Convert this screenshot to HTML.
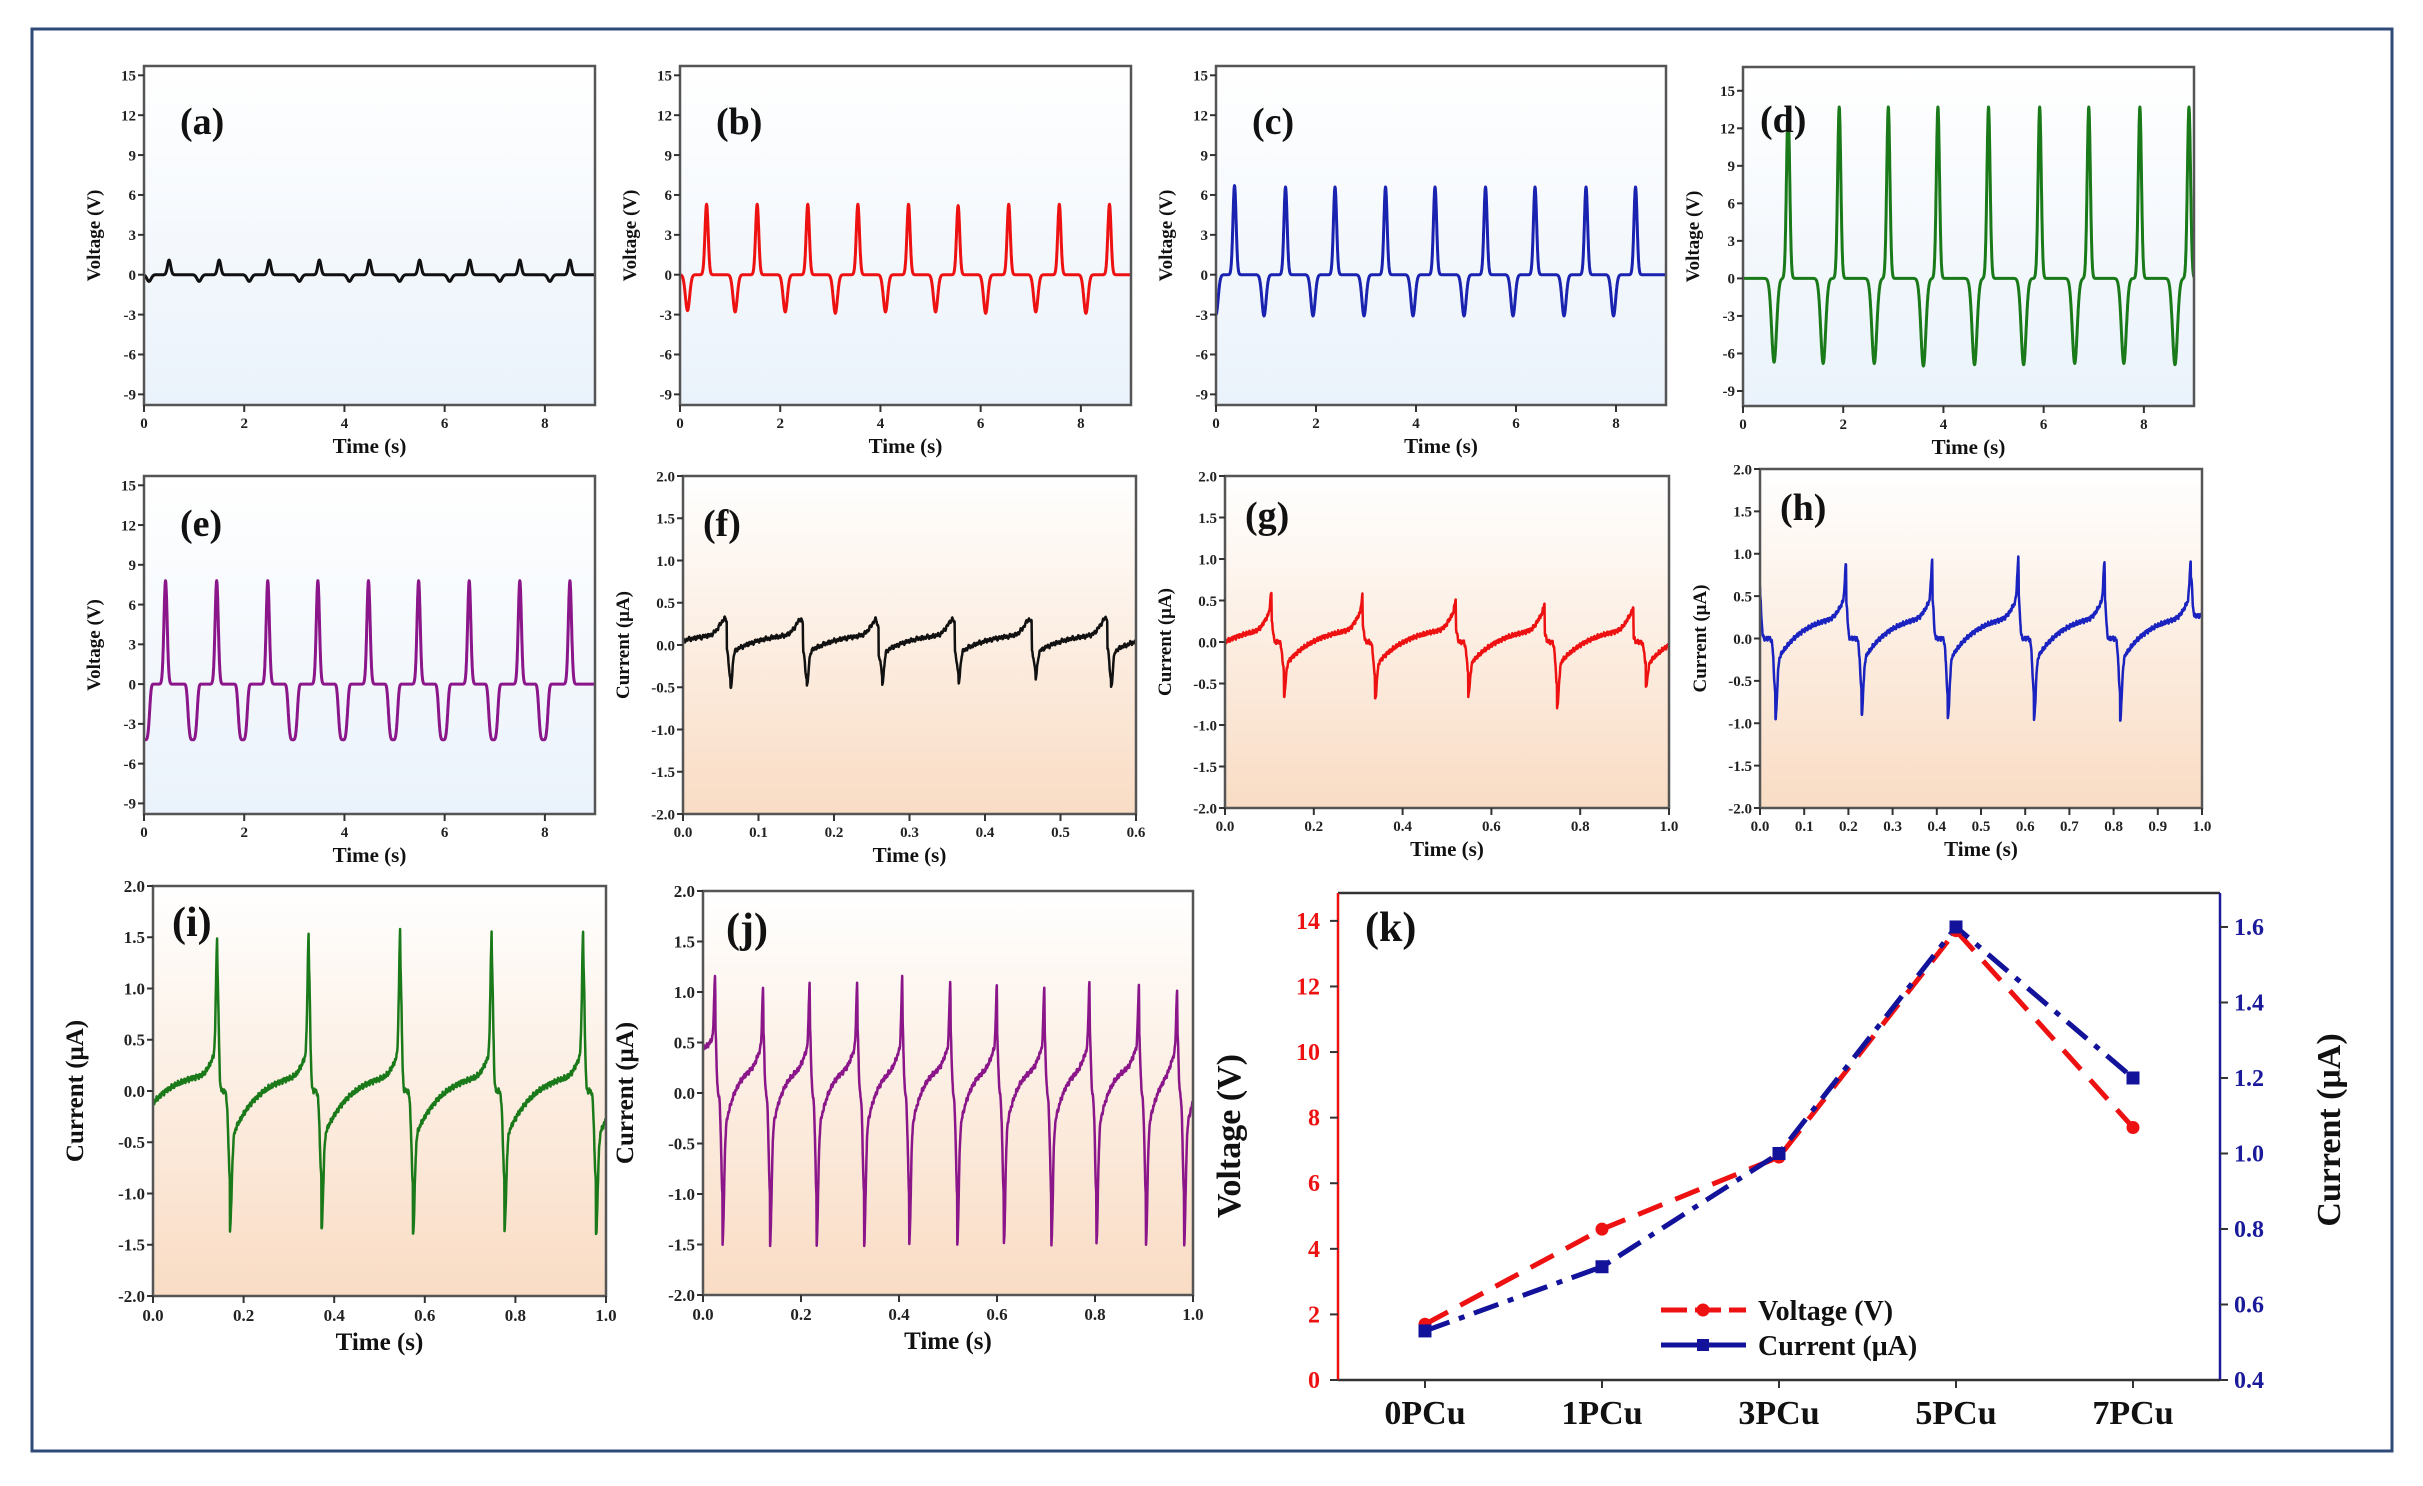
<!DOCTYPE html>
<html><head><meta charset="utf-8"><title>TENG output panels</title>
<style>
html,body{margin:0;padding:0;background:#fff;}
svg{display:block;font-family:"Liberation Serif",serif;}
</style></head>
<body>
<svg id="fig" width="2423" height="1486" viewBox="0 0 2423 1486" xmlns="http://www.w3.org/2000/svg">
<defs>
<linearGradient id="gBlue" x1="0" y1="0" x2="0" y2="1"><stop offset="0" stop-color="#ffffff"/><stop offset="1" stop-color="#eaf2fb"/></linearGradient>
<linearGradient id="gPeach" x1="0" y1="0" x2="0" y2="1"><stop offset="0" stop-color="#ffffff"/><stop offset="1" stop-color="#f9dcc4"/></linearGradient>
</defs>
<rect x="32" y="29" width="2360" height="1422" fill="none" stroke="#2d4a78" stroke-width="3"/>
</svg>
<script>
// ---- data ----
const aPeakT=[0.5,1.5,2.5,3.5,4.5,5.5,6.5,7.5,8.5];
const aPeakV=[1.1,1.1,1.1,1.1,1.1,1.1,1.1,1.1,1.1];
const aDipT=[0.1,1.1,2.1,3.1,4.1,5.1,6.1,7.1,8.1];
const aDipV=[-0.5,-0.5,-0.5,-0.5,-0.5,-0.5,-0.5,-0.5,-0.5];

const bPeakT=[0.53,1.54,2.55,3.55,4.56,5.55,6.56,7.57,8.57];
const bPeakV=[5.3,5.3,5.3,5.3,5.3,5.2,5.3,5.3,5.3];
const bDipT=[0.15,1.1,2.1,3.1,4.1,5.1,6.1,7.1,8.1];
const bDipV=[-2.7,-2.8,-2.8,-2.9,-2.8,-2.8,-2.9,-2.8,-2.9];

const cPeakT=[0.37,1.39,2.38,3.39,4.38,5.39,6.38,7.4,8.39];
const cPeakV=[6.7,6.6,6.6,6.6,6.6,6.6,6.6,6.6,6.6];
const cDipT=[0.0,0.96,1.94,2.96,3.94,4.96,5.94,6.96,7.95];
const cDipV=[-3.0,-3.1,-3.1,-3.1,-3.1,-3.1,-3.1,-3.1,-3.1];

const dPeakT=[0.9,1.92,2.9,3.89,4.9,5.92,6.9,7.92,8.9];
const dPeakV=[13.6,13.7,13.7,13.7,13.7,13.7,13.7,13.7,13.7];
const dDipT=[0.62,1.6,2.62,3.6,4.62,5.6,6.62,7.6,8.62];
const dDipV=[-6.7,-6.8,-6.8,-7.0,-6.9,-6.9,-6.8,-6.8,-6.9];

const ePeakT=[0.43,1.45,2.47,3.47,4.48,5.48,6.49,7.5,8.5];
const ePeakV=[7.8,7.8,7.8,7.8,7.8,7.8,7.8,7.8,7.8];
const eDipT=[0.02,0.97,1.97,2.97,3.97,4.97,5.97,6.97,7.97];
const eDipV=[-4.2,-4.2,-4.2,-4.2,-4.2,-4.2,-4.2,-4.2,-4.2];

const fPeakT=[0.058,0.159,0.259,0.36,0.462,0.562];
const fPeakV=[0.33,0.3,0.25,0.3,0.3,0.35];
const fDipT=[0.063,0.164,0.264,0.365,0.467,0.567];
const fDipV=[-0.52,-0.5,-0.45,-0.45,-0.4,-0.5];

const gPeakT=[0.105,0.31,0.52,0.72,0.92];
const gPeakV=[0.65,0.6,0.55,0.5,0.45];
const gDipT=[0.133,0.338,0.548,0.748,0.948];
const gDipV=[-0.65,-0.7,-0.65,-0.8,-0.55];

const hPeakT=[0.0,0.195,0.39,0.585,0.78,0.975];
const hPeakV=[1.0,0.93,0.97,1.0,0.97,0.97];
const hDipT=[0.035,0.23,0.425,0.62,0.815];
const hDipV=[-0.95,-0.9,-0.95,-0.95,-0.95];

const iPeakT=[0.142,0.344,0.546,0.748,0.95];
const iPeakV=[1.55,1.6,1.62,1.62,1.62];
const iDipT=[0.17,0.372,0.574,0.776,0.978];
const iDipV=[-1.35,-1.35,-1.4,-1.35,-1.4];

const jPeakT=[0.025,0.123,0.218,0.315,0.407,0.505,0.6,0.697,0.789,0.89,0.968];
const jPeakV=[1.15,1.1,1.15,1.15,1.2,1.15,1.1,1.1,1.15,1.1,1.1];
const jDipT=[0.04,0.137,0.232,0.329,0.421,0.519,0.614,0.711,0.803,0.904,0.982];
const jDipV=[-1.5,-1.5,-1.5,-1.5,-1.5,-1.5,-1.5,-1.5,-1.5,-1.5,-1.5];

const kCategories=["0PCu","1PCu","3PCu","5PCu","7PCu"];
const kVoltage=[1.7,4.6,6.8,13.7,7.7];
const kCurrent=[0.53,0.70,1.00,1.60,1.20];
const kLeftTicks=[0,2,4,6,8,10,12,14];
const kRightTicks=[0.4,0.6,0.8,1.0,1.2,1.4,1.6];

const vTicks=[15,12,9,6,3,0,-3,-6,-9];
const vXTicks=[0,2,4,6,8];
const cTicks=[2.0,1.5,1.0,0.5,0.0,-0.5,-1.0,-1.5,-2.0];
const xTicks06=[0,0.1,0.2,0.3,0.4,0.5,0.6];
const xTicks10=[0,0.2,0.4,0.6,0.8,1.0];
const xTicks10b=[0,0.1,0.2,0.3,0.4,0.5,0.6,0.7,0.8,0.9,1.0];

// ---- helpers ----
const NS="http://www.w3.org/2000/svg";
const svg=document.getElementById('fig');
function mk(tag,attrs,parent,txt){const e=document.createElementNS(NS,tag);for(const k in attrs)e.setAttribute(k,attrs[k]);if(txt!==undefined)e.textContent=txt;(parent||svg).appendChild(e);return e;}
function jit(t){return 0.5*Math.sin(t*1731.3)+0.3*Math.sin(t*913.7+1.2)+0.2*Math.sin(t*4021.1+0.4);}

function voltFn(P,t){
  let v=0;
  for(let i=0;i<P.pt.length;i++){const d=(t-P.pt[i])/P.pw;v+=P.pv[i]*Math.exp(-d*d);}
  for(let i=0;i<P.dt.length;i++){const d=(t-P.dt[i])/P.dw;v+=P.dv[i]*Math.exp(-Math.pow(Math.abs(d),P.dp));}
  return v;
}
function currFn(P,t){
  let last=-1;
  for(let i=0;i<P.dt.length;i++){if(P.dt[i]<=t)last=i;}
  let base;
  if(last<0){base=P.hi-(P.hi-P.s0)*Math.exp(-t/P.tau);}
  else{base=P.hi-(P.hi-P.lo)*Math.exp(-(t-P.dt[last])/P.tau);}
  for(let i=0;i<P.pt.length;i++){
    const nd=P.dt.find(x=>x>P.pt[i]);
    if(nd!==undefined && t>P.pt[i] && t<nd) base=0;
  }
  let v=base;
  const bump=0.2;
  for(let i=0;i<P.pt.length;i++){const d=(t-P.pt[i])/P.pw;v+=(P.pv[i]-P.hi-bump)*Math.exp(-d*d);}
  for(let i=0;i<P.pt.length;i++){const d=(t-P.pt[i])/(P.pw*5);if(t<P.pt[i])v+=bump*Math.exp(-d*d);}
  for(let i=0;i<P.dt.length;i++){const d=(t-P.dt[i])/P.dw;v+=(P.dv[i]-P.lo)*Math.exp(-d*d);}
  return v+P.noise*jit(t);
}

function panel(P){
  const g=mk('g',{},svg);
  
  
  const W=P.x1-P.x0,H=P.y1-P.y0;
  const sx=t=>P.x0+(t-P.xmin)/(P.xmax-P.xmin)*W;
  const sy=v=>P.y1-(v-P.ymin)/(P.ymax-P.ymin)*H;
  const bg=mk('rect',{x:P.x0,y:P.y0,width:W,height:H,fill:P.grad},g);
  
  
  let d='';const n=P.samples;
  for(let k=0;k<=n;k++){const t=P.xmin+(P.xmax-P.xmin)*k/n;const v=P.fn(P,t);d+=(k?'L':'M')+sx(t).toFixed(1)+' '+sy(v).toFixed(1);}
  const cp=mk('clipPath',{id:'clip'+P.id},g);mk('rect',{x:P.x0,y:P.y0,width:W,height:H},cp);
  const line=mk('path',{d:d,fill:'none',stroke:P.color,'stroke-width':P.lw,'stroke-linejoin':'round','clip-path':'url(#clip'+P.id+')'},g);
  
  
  const fr=mk('rect',{x:P.x0,y:P.y0,width:W,height:H,fill:'none',stroke:'#555','stroke-width':2.5},g);
  
  
  P.yt.forEach(v=>{
    const y=sy(v);
    mk('line',{x1:P.x0-6,x2:P.x0,y1:y,y2:y,stroke:'#333','stroke-width':2},g);
    const tl=mk('text',{x:P.x0-8,y:y+P.fs*0.35,'font-size':P.fs,'font-weight':'bold','text-anchor':'end',fill:'#222'},g,P.yfmt(v));
    
    
  });
  P.xt.forEach(v=>{
    const x=sx(v);
    mk('line',{x1:x,x2:x,y1:P.y1,y2:P.y1+7,stroke:'#333','stroke-width':2},g);
    const tl=mk('text',{x:x,y:P.y1+P.fs+8,'font-size':P.fs,'font-weight':'bold','text-anchor':'middle',fill:'#222'},g,P.xfmt(v));
    
    
  });
  const xt=mk('text',{x:(P.x0+P.x1)/2,y:P.y1+P.fs+8+P.tfs+4,'font-size':P.tfs,'font-weight':'bold','text-anchor':'middle',fill:'#111'},g,'Time (s)');
  
  
  const yx=P.x0-P.yoff,yy=(P.y0+P.y1)/2;
  const yt=mk('text',{x:yx,y:yy,'font-size':P.ytfs,'font-weight':'bold','text-anchor':'middle',fill:'#111',transform:'rotate(-90 '+yx+' '+yy+')'},g,P.ytitle);
  
  
  const lb=mk('text',{x:P.lx,y:P.ly,'font-size':P.lfs,'font-weight':'bold',fill:'#111'},g,'('+P.id+')');
  
  
}

const vfmtX=v=>String(v), vfmtY=v=>String(v);
const cfmt=v=>v.toFixed(1);
function vp(id,x0,y0,x1,y1,pt,pv,dt,dv,color,opt){
  return Object.assign({id,x0,y0,x1,y1,xmin:0,xmax:9,ymin:-9.8,ymax:15.7,pt,pv,dt,dv,pw:0.045,dw:0.06,dp:2,
    fn:voltFn,samples:1800,color,lw:3,grad:'url(#gBlue)',yt:vTicks,xt:vXTicks,yfmt:vfmtY,xfmt:vfmtX,
    fs:15,tfs:21,ytfs:19,yoff:44,ytitle:'Voltage (V)',lx:x0+36,ly:y0+68,lfs:38},opt||{});
}
function cpn(id,x0,y0,x1,y1,pt,pv,dt,dv,color,opt){
  return Object.assign({id,x0,y0,x1,y1,xmin:0,xmax:1,ymin:-2,ymax:2,pt,pv,dt,dv,pw:0.004,dw:0.005,
    fn:currFn,samples:2000,color,lw:2.5,grad:'url(#gPeach)',yt:cTicks,xt:xTicks10,yfmt:cfmt,xfmt:cfmt,
    fs:15,tfs:21,ytfs:19,yoff:54,ytitle:'Current (\u03bcA)',lx:x0+20,ly:y0+60,lfs:38,lo:-0.3,hi:0.3,tau:0.06,s0:0,noise:0.03},opt||{});
}

panel(vp('a',144,66,595,405,aPeakT,aPeakV,aDipT,aDipV,'#111'));
panel(vp('b',680,66,1131,405,bPeakT,bPeakV,bDipT,bDipV,'#ee1111'));
panel(vp('c',1216,66,1666,405,cPeakT,cPeakV,cDipT,cDipV,'#1a22b0'));
panel(vp('d',1743,67,2194,406,dPeakT,dPeakV,dDipT,dDipV,'#1a7a1a',{ymin:-10.2,ymax:16.9,dw:0.07,lx:1760,ly:132}));
panel(vp('e',144,476,595,814,ePeakT,ePeakV,eDipT,eDipV,'#8a168a',{dw:0.1,dp:4,ly:536}));
panel(cpn('f',683,476,1136,814,fPeakT,fPeakV,fDipT,fDipV,'#111',{xmax:0.6,xt:xTicks06,lo:-0.1,hi:0.15,tau:0.04,s0:0.05,pw:0.0025,dw:0.003,ly:536}));
panel(cpn('g',1225,476,1669,808,gPeakT,gPeakV,gDipT,gDipV,'#ee1111',{lo:-0.3,hi:0.2,tau:0.07,ly:528}));
panel(cpn('h',1760,469,2202,808,hPeakT,hPeakV,hDipT,hDipV,'#1a22c0',{xt:xTicks10b,lo:-0.3,hi:0.3,tau:0.06,s0:0.1,ly:520}));
panel(cpn('i',153,886,606,1296,iPeakT,iPeakV,iDipT,iDipV,'#1a7a1a',{lo:-0.5,hi:0.2,tau:0.06,s0:-0.12,fs:17,tfs:25,ytfs:25,yoff:70,lx:172,ly:936,lfs:42}));
panel(cpn('j',703,891,1193,1295,jPeakT,jPeakV,jDipT,jDipV,'#8a168a',{lo:-0.5,hi:0.3,tau:0.025,s0:0.45,pw:0.003,dw:0.004,fs:17,tfs:25,ytfs:25,yoff:70,lx:726,ly:942,lfs:42}));

// ---- panel k ----
(function(){
  const x0=1338,x1=2220,y0=893,y1=1380;
  const g=mk('g',{},svg);
  
  
  const sx=i=>x0+87+i*(x1-x0-174)/(kCategories.length-1);
  const lmin=0,lmax=14.85,rmin=0.4,rmax=1.69;
  const syl=v=>y1-(v-lmin)/(lmax-lmin)*(y1-y0);
  const syr=v=>y1-(v-rmin)/(rmax-rmin)*(y1-y0);
  mk('line',{x1:x0,x2:x1,y1:y0,y2:y0,stroke:'#333','stroke-width':2.5},g);
  mk('line',{x1:x0,x2:x1,y1:y1,y2:y1,stroke:'#333','stroke-width':2.5},g);
  const la=mk('line',{x1:x0,x2:x0,y1:y0,y2:y1,stroke:'#ee1111','stroke-width':2.5},g);
  
  
  const ra=mk('line',{x1:x1,x2:x1,y1:y0,y2:y1,stroke:'#1a1a9a','stroke-width':2.5},g);
  
  
  kLeftTicks.forEach(v=>{const y=syl(v);mk('line',{x1:x0-8,x2:x0,y1:y,y2:y,stroke:'#333','stroke-width':2},g);
    const t=mk('text',{x:x0-18,y:y+8,'font-size':24,'font-weight':'bold','text-anchor':'end',fill:'#ee1111'},g,String(v));
    
    });
  kRightTicks.forEach(v=>{const y=syr(v);mk('line',{x1:x1,x2:x1+8,y1:y,y2:y,stroke:'#333','stroke-width':2},g);
    const t=mk('text',{x:x1+14,y:y+8,'font-size':24,'font-weight':'bold','text-anchor':'start',fill:'#1a1a9a'},g,v.toFixed(1));
    
    });
  kCategories.forEach((c,i)=>{const x=sx(i);mk('line',{x1:x,x2:x,y1:y1,y2:y1+8,stroke:'#333','stroke-width':2},g);
    const t=mk('text',{x:x,y:y1+44,'font-size':34,'font-weight':'bold','text-anchor':'middle',fill:'#111'},g,c);
    
    });
  const vl=mk('polyline',{points:kVoltage.map((v,i)=>sx(i)+','+syl(v)).join(' '),fill:'none',stroke:'#ee1111','stroke-width':5,'stroke-dasharray':'26 14'},g);
  
  
  const cl=mk('polyline',{points:kCurrent.map((v,i)=>sx(i)+','+syr(v)).join(' '),fill:'none',stroke:'#12129a','stroke-width':5,'stroke-dasharray':'26 10 6 10'},g);
  
  
  kVoltage.forEach((v,i)=>{const c=mk('circle',{cx:sx(i),cy:syl(v),r:6.5,fill:'#ee1111'},g);
    
    });
  kCurrent.forEach((v,i)=>{const r=mk('rect',{x:sx(i)-6.5,y:syr(v)-6.5,width:13,height:13,fill:'#12129a'},g);
    
    });
  const lt=mk('text',{x:1240,y:1136,'font-size':34,'font-weight':'bold','text-anchor':'middle',fill:'#111',transform:'rotate(-90 1240 1136)'},g,'Voltage (V)');
  
  
  const rt=mk('text',{x:2340,y:1130,'font-size':34,'font-weight':'bold','text-anchor':'middle',fill:'#111',transform:'rotate(-90 2340 1130)'},g,'Current (\u03bcA)');
  
  
  const kl=mk('text',{x:1365,y:941,'font-size':42,'font-weight':'bold',fill:'#111'},g,'(k)');
  
  
  const lg=mk('g',{},g);
  
  
  mk('line',{x1:1661,x2:1746,y1:1310,y2:1310,stroke:'#ee1111','stroke-width':5,'stroke-dasharray':'26 8'},lg);
  mk('circle',{cx:1703,cy:1310,r:6.5,fill:'#ee1111'},lg);
  const l1=mk('text',{x:1758,y:1320,'font-size':28,'font-weight':'bold',fill:'#111'},lg,'Voltage (V)');
  
  
  mk('line',{x1:1661,x2:1746,y1:1345,y2:1345,stroke:'#12129a','stroke-width':5},lg);
  mk('rect',{x:1697,y:1339,width:12,height:12,fill:'#12129a'},lg);
  const l2=mk('text',{x:1758,y:1355,'font-size':28,'font-weight':'bold',fill:'#111'},lg,'Current (\u03bcA)');
  
  
})();
</script>
</body></html>
